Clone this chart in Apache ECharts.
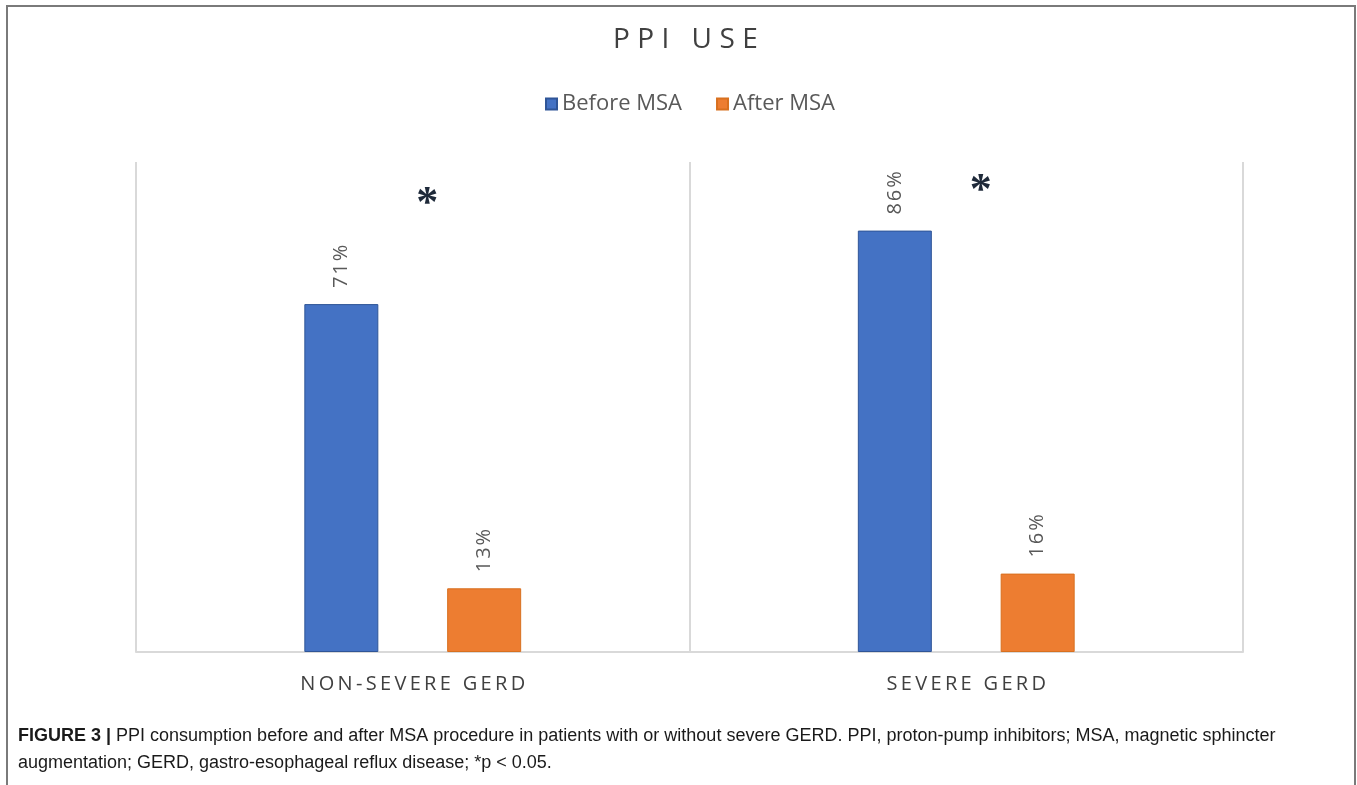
<!DOCTYPE html>
<html>
<head>
<meta charset="utf-8">
<title>PPI USE</title>
<script src="https://cdn.jsdelivr.net/npm/echarts@6/dist/echarts.min.js"></script>
<style>
  html, body { margin: 0; padding: 0; background: #fff; }
  #chart { width: 1357px; height: 785px; }
</style>
</head>
<body>
<div id="chart"></div>
<script>
// data
const categories = ['NON-SEVERE GERD', 'SEVERE GERD']
const seriesNames = ['Before MSA', 'After MSA']
const beforeMSA = [71, 86]
const afterMSA = [13, 16]
// height (in %) where the significance asterisk sits
const sigLevel = [93, 95.5]

const captionBold = 'FIGURE 3 |'
const captionLine1 = ' PPI consumption before and after MSA procedure in patients with or without severe GERD. PPI, proton-pump inhibitors; MSA, magnetic sphincter'
const captionLine2 = 'augmentation; GERD, gastro-esophageal reflux disease; *p < 0.05.'

// spread letters a little (canvas text has no letter-spacing)
function spread(s, sep) {
  return String(s).split('').join(sep)
}

const chart = echarts.init(document.getElementById('chart'), null, { renderer: 'canvas' })

const labelStyle = {
  show: true,
  position: 'top',
  rotate: 90,
  align: 'left',
  verticalAlign: 'middle',
  distance: 16,
  fontFamily: 'Open Sans',
  fontSize: 20,
  color: '#595959',
  formatter: (p) => spread(p.value + '%', '\u200a')
}

const option = {
  backgroundColor: '#fff',
  animation: false,
  title: {
    text: spread('PPI USE', '\u2009\u200a'),
    left: 608,
    top: 21,
    textStyle: {
      fontFamily: 'Open Sans',
      fontWeight: 'normal',
      fontSize: 28,
      color: '#404040'
    }
  },
  legend: {
    data: seriesNames,
    top: 88,
    left: 540,
    icon: 'rect',
    itemWidth: 11,
    itemHeight: 11,
    itemGap: 34,
    textStyle: {
      fontFamily: 'Open Sans',
      fontSize: 22,
      color: '#595959'
    }
  },
  grid: {
    left: 136,
    right: 114,
    top: 162,
    bottom: 133,
    containLabel: false
  },
  xAxis: {
    type: 'category',
    data: categories,
    axisLine: { show: true, lineStyle: { color: '#d9d9d9', width: 2 } },
    axisTick: { show: false },
    splitLine: { show: true, lineStyle: { color: '#d9d9d9', width: 2 } },
    axisLabel: {
      margin: 22,
      fontFamily: 'Open Sans',
      fontSize: 20,
      color: '#404040',
      formatter: (v) => spread(v, '\u2009')
    }
  },
  yAxis: {
    type: 'value',
    min: 0,
    max: 100,
    show: false,
    splitLine: { show: false }
  },
  series: [
    {
      name: seriesNames[0],
      type: 'bar',
      data: beforeMSA,
      barWidth: 74,
      barGap: '93%',
      itemStyle: { color: '#4472c4', borderColor: '#2f5597', borderWidth: 1 },
      label: labelStyle,
      markPoint: {
        symbol: 'circle',
        symbolSize: 1,
        itemStyle: { color: 'rgba(0,0,0,0)' },
        label: {
          show: true,
          position: 'inside',
          offset: [86, 8],
          formatter: '*',
          fontFamily: 'Liberation Serif',
          fontWeight: 'bold',
          fontSize: 44,
          color: '#1f2a3a'
        },
        data: categories.map((c, i) => ({ coord: [c, sigLevel[i]] }))
      }
    },
    {
      name: seriesNames[1],
      type: 'bar',
      data: afterMSA,
      barWidth: 74,
      itemStyle: { color: '#ed7d31', borderColor: '#d8701f', borderWidth: 1 },
      label: labelStyle
    }
  ],
  graphic: [
    {
      type: 'rect',
      silent: true,
      shape: { x: 7, y: 6, width: 1348, height: 820 },
      style: { fill: 'none', stroke: '#7a7a7a', lineWidth: 2 }
    },
    {
      type: 'text',
      left: 18,
      top: 727,
      style: {
        text: '{b|' + captionBold + '}{n|' + captionLine1 + '}\n{n|' + captionLine2 + '}',
        rich: {
          b: { fontFamily: 'Liberation Sans', fontWeight: 'bold', fontSize: 18, lineHeight: 27, fill: '#1a1a1a' },
          n: { fontFamily: 'Liberation Sans', fontSize: 18, lineHeight: 27, fill: '#1a1a1a' }
        }
      }
    }
  ]
}

chart.setOption(option)
</script>
</body>
</html>
